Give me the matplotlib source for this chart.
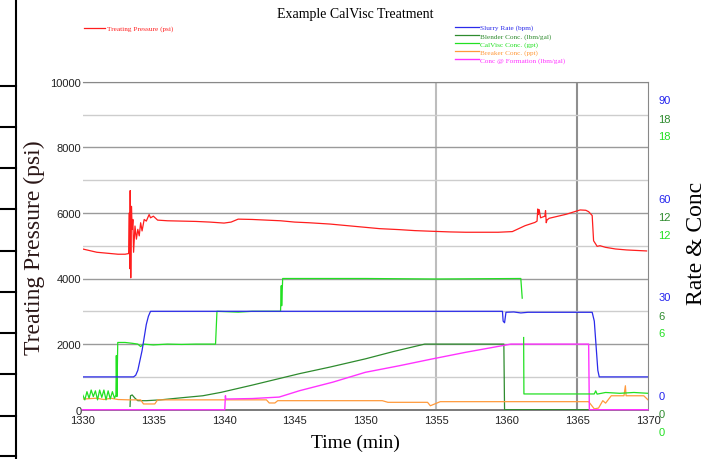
import matplotlib
matplotlib.use("Agg")
import numpy as np
import matplotlib.pyplot as plt
from matplotlib.lines import Line2D
from matplotlib.transforms import ScaledTranslation

# ---- data ----
pressure_t = [1330.0, 1330.5, 1331.0, 1331.5, 1332.0, 1332.5, 1333.0, 1333.25, 1333.3, 1333.33,
              1333.36, 1333.40, 1333.45, 1333.5, 1333.55, 1333.6, 1333.7, 1333.8, 1333.9, 1334.0,
              1334.1, 1334.2, 1334.35, 1334.5, 1334.7, 1334.8, 1335.0, 1335.3, 1336.0, 1337.0,
              1338.0, 1339.0, 1340.0, 1340.5, 1341.0, 1342.0, 1343.0, 1344.0, 1345.0, 1346.0,
              1347.5, 1349.0, 1350.0, 1351.0, 1352.4, 1353.5, 1354.7, 1356.0, 1357.1, 1358.5,
              1359.4, 1360.4, 1361.3, 1362.0, 1362.15, 1362.2, 1362.25, 1362.3, 1362.4, 1362.7,
              1362.75, 1362.8, 1362.85, 1363.0, 1364.2, 1365.2, 1365.6, 1365.8, 1366.05, 1366.15,
              1366.3, 1366.4, 1366.6, 1367.0, 1367.7, 1368.5, 1369.9]
pressure_psi = [4900, 4850, 4800, 4780, 4760, 4740, 4740, 4760, 6000, 4300,
                6680, 4020, 6200, 5500, 5800, 4800, 5600, 5200, 5500, 5300,
                5700, 5450, 5800, 5750, 5950, 5850, 5900, 5780, 5760, 5750,
                5740, 5720, 5690, 5720, 5810, 5800, 5780, 5760, 5720, 5700,
                5660, 5600, 5560, 5520, 5490, 5460, 5440, 5420, 5410, 5410,
                5410, 5430, 5610, 5710, 5750, 6120, 5950, 6100, 5850, 5900,
                6070, 5700, 5780, 5835, 5957, 6090, 6080, 6037, 5920, 5150,
                5050, 4980, 5000, 4950, 4900, 4870, 4840]

rate_t = [1330.0, 1333.6, 1333.75, 1333.9, 1334.05, 1334.2, 1334.35, 1334.5, 1334.65, 1334.8,
          1359.7, 1359.75, 1359.85, 1359.95, 1360.5, 1361.0, 1361.5, 1366.05, 1366.2, 1366.35,
          1366.45, 1366.55, 1370.0]
rate_bpm = [10, 10, 10.5, 12, 15, 18, 22, 26, 28.5, 30,
            30, 27, 26.5, 29.7, 29.8, 29.5, 29.7, 29.7, 27, 18,
            12, 10, 10]

blender_t = [1333.35, 1333.38, 1333.5, 1333.7, 1333.9, 1334.5, 1335.5, 1336.9, 1338.5, 1339.8,
             1342.0, 1345.35, 1347.5, 1350.0, 1352.0, 1354.2, 1359.8, 1359.85, 1370.0]
blender_conc = [0.2, 0.85, 0.9, 0.7, 0.55, 0.55, 0.6, 0.72, 0.85, 1.06,
                1.5, 2.2, 2.6, 3.1, 3.55, 4.0, 4.0, 0.0, 0.0]

calvisc_t = [1330.0, 1330.15, 1330.3, 1330.45, 1330.6, 1330.75, 1330.9, 1331.05, 1331.2, 1331.35,
             1331.5, 1331.65, 1331.8, 1331.95, 1332.1, 1332.25, 1332.35, 1332.38, 1332.42, 1332.48,
             1333.0, 1333.5, 1333.9, 1334.1, 1334.3, 1335.0, 1336.0, 1337.0, 1338.0, 1339.4,
             1339.45, 1339.5, 1341.0, 1342.0, 1344.0, 1344.05, 1344.08, 1344.15, 1350.0, 1355.0,
             1361.0, 1361.1, 1361.15, 1361.2, 1361.22, 1366.2, 1366.3, 1366.4, 1367.0, 1368.0,
             1369.0, 1370.0]
calvisc_gpt = [0.9, 0.6, 1.1, 0.7, 1.2, 0.8, 1.15, 0.6, 1.2, 0.75,
               1.2, 0.6, 1.15, 0.65, 1.1, 0.7, 0.9, 3.3, 0.8, 4.1,
               4.1, 4.05, 4.0, 3.85, 4.0, 3.95, 4.0, 3.98, 4.0, 4.0,
               5.0, 6.0, 5.95, 6.0, 6.0, 7.56, 6.34, 8.0, 8.0, 7.97,
               8.0, 6.8, np.nan, 4.4, 0.96, 0.96, 1.15, 0.95, 1.05, 1.0,
               1.05, 1.0]

breaker_t = [1330.0, 1331.0, 1331.5, 1332.0, 1332.5, 1333.3, 1334.1, 1334.3, 1335.1, 1335.3,
             1340.0, 1343.0, 1343.2, 1343.6, 1343.8, 1351.2, 1351.6, 1354.4, 1354.6, 1355.3,
             1365.8, 1366.2, 1366.5, 1366.8, 1367.0, 1367.4, 1368.3, 1368.4, 1368.45, 1369.7,
             1370.0]
breaker_ppt = [0.65, 0.7, 0.62, 0.7, 0.62, 0.6, 0.6, 0.35, 0.35, 0.6,
               0.6, 0.6, 0.41, 0.41, 0.55, 0.55, 0.45, 0.45, 0.24, 0.49,
               0.49, 0.05, 0.1, 0.55, 0.4, 0.85, 0.85, 1.46, 0.85, 0.85,
               0.6]

formation_t = [1330.0, 1340.05, 1340.1, 1340.12, 1342.0, 1343.9, 1345.35, 1347.7, 1350.0, 1352.4,
               1354.7, 1357.1, 1360.3, 1365.8, 1365.85, 1370.0]
formation_conc = [0, 0, 0.85, 0.65, 0.68, 0.77, 1.16, 1.68, 2.28, 2.68,
                  3.09, 3.5, 4.0, 4.0, 0, 0]

pressure_ticks = [0, 2000, 4000, 6000, 8000, 10000]
rate_ticks = [0, 30, 60, 90]
conc_ticks = [0, 6, 12, 18]
time_ticks = [1330, 1335, 1340, 1345, 1350, 1355, 1360, 1365, 1370]
event_times = [1355, 1365]

W, H = 711, 460
fig = plt.figure(figsize=(W / 100, H / 100), dpi=100)
ax = fig.add_axes([82.7 / W, 1 - 410.7 / H, (648 - 82.7) / W, (410.7 - 82.7) / H])

ax.set_xlim(1330, 1370)
ax.set_ylim(0, 10000)
ax.set_xticks(time_ticks)
ax.set_yticks(pressure_ticks)
ax.set_yticks(np.arange(1000, 10000, 2000), minor=True)
ax.grid(True, axis='y', which='major', color='#9a9a9a', lw=1.0)
ax.grid(True, axis='y', which='minor', color='#cdcdcd', lw=1.0)
ax.set_axisbelow(True)
for t, c in zip(event_times, ['#bdbdbd', '#8f8f8f']):
    ax.axvline(t, color=c, lw=1.5, zorder=0.5)

tick_font = ['Liberation Sans', 'DejaVu Sans']
ax.tick_params(axis='both', which='both', length=0, labelsize=8)
ax.tick_params(axis='y', pad=1)
ax.tick_params(axis='x', pad=4)
for lab in ax.get_xticklabels() + ax.get_yticklabels():
    lab.set_family(tick_font)
    lab.set_color('#222222')
ax.spines['left'].set_visible(False)
ax.spines['top'].set_color('#888888')
ax.spines['right'].set_color('#888888')
ax.spines['bottom'].set_color('#7a7a7a')
ax.spines['bottom'].set_linewidth(1.4)

red, = ax.plot(pressure_t, pressure_psi, color='#ff1e1e', lw=0.9, label='Treating Pressure (psi)')


def make_twin(ylim, ticks, color, dy_px):
    tw = ax.twinx()
    tw.set_ylim(*ylim)
    tw.set_yticks(ticks)
    tw.tick_params(axis='y', length=0, pad=7.5, labelsize=8, labelcolor=color)
    for s in tw.spines.values():
        s.set_visible(False)
    offset = ScaledTranslation(0, dy_px * 0.72 / 72, fig.dpi_scale_trans)
    for lab in tw.get_yticklabels():
        lab.set_family(tick_font)
        lab.set_transform(lab.get_transform() + offset)
    return tw


ax_blend = make_twin((0, 20), conc_ticks, '#2e8b2e', -3.5)
ax_calv = make_twin((0, 20), conc_ticks, '#22e022', -21)
ax_rate = make_twin((0, 100), rate_ticks, '#2222ee', 15)

dkgreen, = ax_blend.plot(blender_t, blender_conc, color='#2e8b2e', lw=0.9, label='Blender Conc. (lbm/gal)')
orange, = ax_blend.plot(breaker_t, breaker_ppt, color='#ff9a3c', lw=0.9, label='Breaker Conc. (ppt)')
pink, = ax_blend.plot(formation_t, formation_conc, color='#ff33ff', lw=1.0, label='Conc @ Formation (lbm/gal)')
pink.set_clip_on(False)
green, = ax_calv.plot(calvisc_t, calvisc_gpt, color='#22e022', lw=0.9, label='CalVisc Conc. (gpt)')
blue, = ax_rate.plot(rate_t, rate_bpm, color='#2b2bea', lw=0.9, label='Slurry Rate (bpm)')

leg_font = dict(family=['Liberation Serif', 'DejaVu Serif'], size=5.2)
leg1 = fig.legend(handles=[red], loc='upper left', bbox_to_anchor=(84 / W, 1 - 26 / H),
                  frameon=False, prop=leg_font, handlelength=2.9, handletextpad=0.3,
                  borderpad=0, borderaxespad=0)
leg2 = fig.legend(handles=[blue, dkgreen, green, orange, pink], loc='upper left',
                  bbox_to_anchor=(455 / W, 1 - 25 / H), frameon=False, prop=leg_font,
                  handlelength=3.3, handletextpad=0.2, labelspacing=0.25,
                  borderpad=0, borderaxespad=0)
for leg in (leg1, leg2):
    for txt, ln in zip(leg.get_texts(), leg.get_lines()):
        txt.set_color(ln.get_color())

serif = ['Liberation Serif', 'DejaVu Serif']
fig.text(355 / W, 1 - 14.5 / H, 'Example CalVisc Treatment', ha='center', va='center',
         family=serif, fontsize=10)
fig.text(34 / W, 1 - 248 / H, 'Treating Pressure (psi)', rotation=90, ha='center', va='center',
         family=serif, fontsize=17, color='#2a1616')
fig.text(355 / W, 1 - 443 / H, 'Time (min)', ha='center', va='center', family=serif, fontsize=14)
fig.text(697 / W, 1 - 243 / H, 'Rate & Conc', rotation=90, ha='center', va='center',
         family=serif, fontsize=17)

# black ruler strip on the left edge of the scan
ruler_y = [86.7, 128, 169, 210, 252, 293, 334, 375, 417, 457]
fig.add_artist(Line2D([16 / W, 16 / W], [0, 1], color='black', lw=1.5))
for y in ruler_y:
    fig.add_artist(Line2D([0, 16 / W], [1 - y / H, 1 - y / H], color='black', lw=1.5))

fig.savefig('out.png', dpi=100)
